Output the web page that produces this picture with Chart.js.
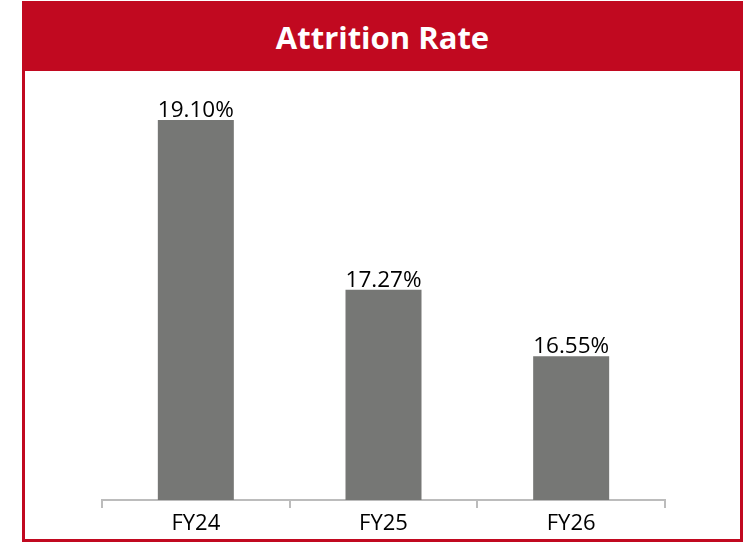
<!DOCTYPE html>
<html lang="en">
<head>
    <meta charset="UTF-8">
    <title>Attrition Rate</title>
    <script src="https://cdn.jsdelivr.net/npm/chart.js"></script>
    <style>
        html, body {
            margin: 0;
            padding: 0;
            background: #fff;
        }
        .frame {
            position: absolute;
            left: 22px;
            top: 1px;
            width: 715px;
            height: 535px;
            border: 3px solid #c10920;
        }
        .header {
            position: absolute;
            left: 0;
            top: 0;
            width: 100%;
            height: 67px;
            background: #c10920;
            color: #fff;
            font-family: "Open Sans", sans-serif;
            font-weight: 700;
            font-size: 31px;
            line-height: 67px;
            text-align: center;
        }
        .chart-box {
            position: absolute;
            left: 0;
            top: 0;
            width: 744px;
            height: 543px;
        }
    </style>
</head>
<body>
    <div class="frame">
        <div class="header">Attrition Rate</div>
    </div>
    <div class="chart-box">
        <canvas id="attritionChart" width="744" height="543"></canvas>
    </div>

    <script>
        const years = ['FY24', 'FY25', 'FY26'];
        const attrition = [19.10, 17.27, 16.55];

        // writes the percentage just above each bar
        const valueLabels = {
            id: 'valueLabels',
            afterDatasetsDraw(chart) {
                const ctx = chart.ctx;
                const meta = chart.getDatasetMeta(0);
                ctx.save();
                ctx.font = '22.5px "Open Sans", sans-serif';
                ctx.fillStyle = '#000';
                ctx.textAlign = 'center';
                ctx.textBaseline = 'alphabetic';
                meta.data.forEach((bar, i) => {
                    ctx.fillText(attrition[i].toFixed(2) + '%', bar.x, bar.y - 3);
                });
                ctx.restore();
            }
        };

        const ctx = document.getElementById('attritionChart').getContext('2d');
        new Chart(ctx, {
            type: 'bar',
            data: {
                labels: years,
                datasets: [{
                    label: 'Attrition Rate',
                    data: attrition,
                    backgroundColor: '#767775',
                    borderWidth: 0,
                    barPercentage: 0.81,
                    categoryPercentage: 0.5
                }]
            },
            options: {
                responsive: false,
                animation: false,
                devicePixelRatio: 1,
                layout: {
                    padding: { top: 83, left: 102, right: 79, bottom: 0 }
                },
                plugins: {
                    legend: { display: false },
                    tooltip: { enabled: false }
                },
                scales: {
                    x: {
                        grid: {
                            drawOnChartArea: false,
                            drawTicks: true,
                            tickLength: 8,
                            color: '#bcbcbc',
                            lineWidth: 2
                        },
                        border: { color: '#bcbcbc', width: 2 },
                        ticks: {
                            color: '#000',
                            padding: 3,
                            font: { family: '"Open Sans", sans-serif', size: 22 }
                        },
                        afterFit(axis) {
                            axis.height = 43;
                        }
                    },
                    y: {
                        display: false,
                        min: 15,
                        max: 19.5
                    }
                }
            },
            plugins: [valueLabels]
        });
    </script>
</body>
</html>
